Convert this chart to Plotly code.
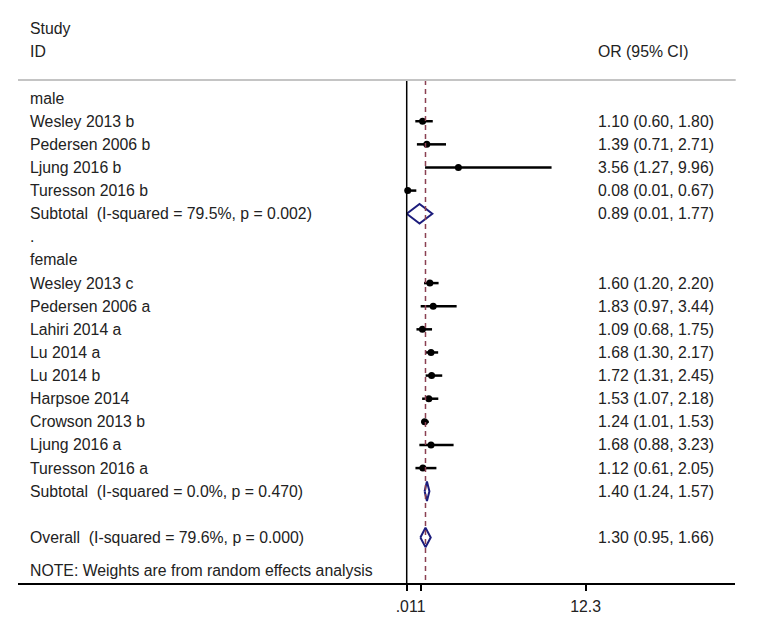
import plotly.graph_objects as go

# ---- data ----
labels = ["male", "Wesley 2013 b", "Pedersen 2006 b", "Ljung 2016 b", "Turesson 2016 b",
          "Subtotal  (I-squared = 79.5%, p = 0.002)", ".", "female",
          "Wesley 2013 c", "Pedersen 2006 a", "Lahiri 2014 a", "Lu 2014 a", "Lu 2014 b",
          "Harpsoe 2014", "Crowson 2013 b", "Ljung 2016 a", "Turesson 2016 a",
          "Subtotal  (I-squared = 0.0%, p = 0.470)", "",
          "Overall  (I-squared = 79.6%, p = 0.000)"]
kind = ["head", "study", "study", "study", "study", "pooled", "head", "head",
        "study", "study", "study", "study", "study", "study", "study", "study", "study",
        "pooled", "blank", "pooled"]
or_est = [None, 1.10, 1.39, 3.56, 0.08, 0.89, None, None,
          1.60, 1.83, 1.09, 1.68, 1.72, 1.53, 1.24, 1.68, 1.12, 1.40, None, 1.30]
ci_lo = [None, 0.60, 0.71, 1.27, 0.01, 0.01, None, None,
         1.20, 0.97, 0.68, 1.30, 1.31, 1.07, 1.01, 0.88, 0.61, 1.24, None, 0.95]
ci_hi = [None, 1.80, 2.71, 9.96, 0.67, 1.77, None, None,
         2.20, 3.44, 1.75, 2.17, 2.45, 2.18, 1.53, 3.23, 2.05, 1.57, None, 1.66]
tick_vals = [0.01, 1, 12.3]
tick_text = [".01", "1", "12.3"]
null_line = 0.01
overall_est = 1.30
note = "NOTE: Weights are from random effects analysis"

FONT = "Liberation Sans, Arial, sans-serif"
FS = 15.8
TXT = "#222222"
NAVY = "#1c1c7c"
MAROON = "#8b4052"

fig = go.Figure()

for i, k in enumerate(kind):
    if k == "study":
        fig.add_trace(go.Scatter(x=[ci_lo[i], ci_hi[i]], y=[i, i], mode="lines",
                                 line=dict(color="black", width=2.5), hoverinfo="skip",
                                 showlegend=False))
        fig.add_trace(go.Scatter(x=[or_est[i]], y=[i], mode="markers",
                                 marker=dict(color="black", size=7), showlegend=False))
    elif k == "pooled":
        h = 0.42
        fig.add_trace(go.Scatter(x=[ci_lo[i], or_est[i], ci_hi[i], or_est[i], ci_lo[i]],
                                 y=[i, i - h, i, i + h, i], mode="lines",
                                 line=dict(color=NAVY, width=2), showlegend=False))

y_top = -0.78
y_bot = 20.97
fig.add_trace(go.Scatter(x=[null_line, null_line], y=[y_top, y_bot], mode="lines",
                         line=dict(color="black", width=1.5), showlegend=False))
fig.add_trace(go.Scatter(x=[overall_est, overall_est], y=[y_top, y_bot], mode="lines",
                         line=dict(color=MAROON, width=1.5, dash="5px,4px"), showlegend=False))

fig.add_shape(type="line", xref="paper", yref="y", x0=0, x1=1.001, y0=y_top, y1=y_top,
              line=dict(color="#c4c4c4", width=2))

LX = (28 - 18) / 717
RX = (596 - 18) / 717
ann = []
def add_text(x, y, t):
    ann.append(dict(x=x, y=y, xref="paper", yref="y", text=t, showarrow=False,
                    xanchor="left", yanchor="middle",
                    font=dict(family=FONT, size=FS, color=TXT)))

add_text(LX, -3, "Study")
add_text(LX, -2, "ID")
add_text(RX, -2, "OR (95% CI)")
for i, lab in enumerate(labels):
    if lab:
        add_text(LX, i, lab)
    if or_est[i] is not None:
        add_text(RX, i, f"{or_est[i]:.2f} ({ci_lo[i]:.2f}, {ci_hi[i]:.2f})")
add_text(LX, 20.45, note)
fig.update_layout(annotations=ann)

fig.update_layout(
    width=749, height=622,
    margin=dict(l=10, r=22, t=2, b=47),
    plot_bgcolor="white", paper_bgcolor="white",
    xaxis=dict(range=[-26.69, 22.56], showgrid=False, zeroline=False,
               showline=True, linecolor="black", linewidth=1.5,
               ticks="outside", ticklen=6, tickcolor="black", tickwidth=1.5,
               tickvals=tick_vals, ticktext=tick_text, tickangle=0,
               ticklabelstandoff=2,
               tickfont=dict(family=FONT, size=FS, color=TXT)),
    yaxis=dict(range=[y_bot, -3.81], showgrid=False, zeroline=False,
               showticklabels=False, showline=False),
    showlegend=False,
)

fig.write_html("out.html")
